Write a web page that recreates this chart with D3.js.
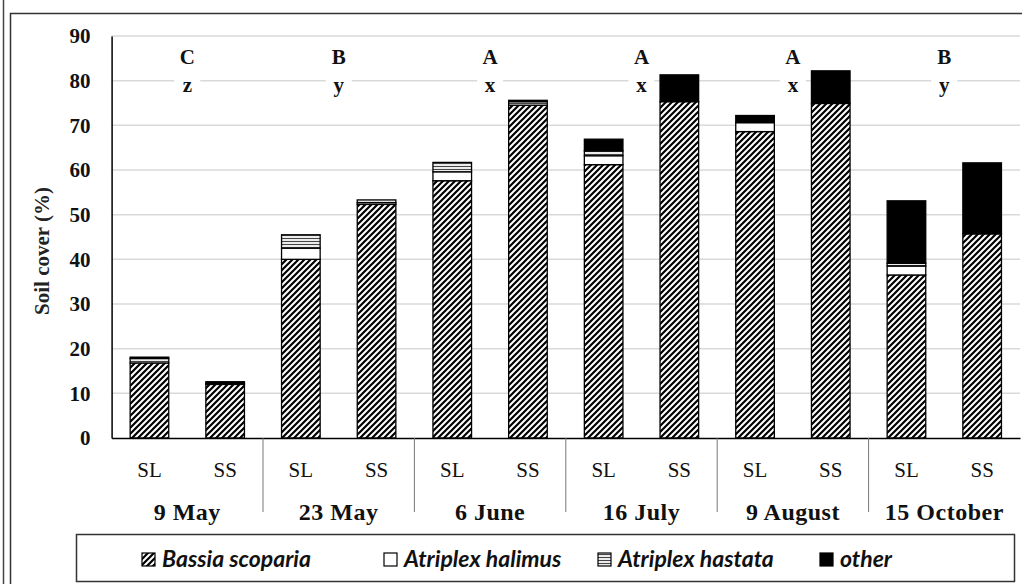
<!DOCTYPE html>
<html>
<head>
<meta charset="utf-8">
<script src="https://cdn.jsdelivr.net/npm/d3@7"></script>
<style>
  html, body { margin: 0; padding: 0; background: #fff; }
  svg { display: block; }
</style>
</head>
<body>
<div id="chart"></div>
<script>
// Data
const dates = ['9 May', '23 May', '6 June', '16 July', '9 August', '15 October'];
const sites = ['SL', 'SS'];
const bassia = [16.8, 12.0, 40.0, 52.3, 57.6, 74.5, 61.2, 75.3, 68.6, 74.9, 36.5, 45.7];
const halimus = [0, 0, 2.5, 0.4, 2.0, 0, 2.0, 0, 2.0, 0, 2.0, 0];
const hastata = [1.0, 0.2, 3.0, 0.6, 2.1, 0.8, 1.1, 0, 0, 0, 0.6, 0];
const other = [0.3, 0.4, 0, 0, 0, 0.3, 2.6, 6.0, 1.6, 7.3, 14.0, 15.9];
const upperLetters = ['C', 'B', 'A', 'A', 'A', 'B'];
const lowerLetters = ['z', 'y', 'x', 'x', 'x', 'y'];
const yTicks = [0, 10, 20, 30, 40, 50, 60, 70, 80, 90];
const speciesNames = ['Bassia scoparia', 'Atriplex halimus', 'Atriplex hastata', 'other'];

//Chart dimensions
const width = 1022;
const height = 584;
const plot = { left: 111.6, right: 1020, top: 36, bottom: 438 };
const serif = "'Liberation Serif', 'Times New Roman', serif";
const sans = "Lato, 'Open Sans', sans-serif";

//Build the table for the stack generator
const keys = ['bassia', 'halimus', 'hastata', 'other'];
const rows = bassia.map((d, i) => ({
  id: i,
  date: dates[Math.floor(i / 2)],
  site: sites[i % 2],
  bassia: d,
  halimus: halimus[i],
  hastata: hastata[i],
  other: other[i]
}));

const svg = d3.select('#chart')
  .append('svg')
  .attr('width', width)
  .attr('height', height);

//Fill patterns
const defs = svg.append('defs');
const diag = defs.append('pattern')
  .attr('id', 'diag')
  .attr('patternUnits', 'userSpaceOnUse')
  .attr('width', 6)
  .attr('height', 6);
diag.append('rect').attr('width', 6).attr('height', 6).attr('fill', '#fff');
diag.append('path')
  .attr('d', 'M-1,1 l2,-2 M0,6 l6,-6 M5,7 l2,-2')
  .attr('stroke', '#000')
  .attr('stroke-width', 2.2);

const horiz = defs.append('pattern')
  .attr('id', 'horiz')
  .attr('patternUnits', 'userSpaceOnUse')
  .attr('width', 4)
  .attr('height', 3);
horiz.append('rect').attr('width', 4).attr('height', 3).attr('fill', '#fff');
horiz.append('line')
  .attr('x1', 0).attr('x2', 4).attr('y1', 1.5).attr('y2', 1.5)
  .attr('stroke', '#444')
  .attr('stroke-width', 1.2);

const fills = { bassia: 'url(#diag)', halimus: '#fff', hastata: 'url(#horiz)', other: '#000' };

//Outer frames
svg.append('line')
  .attr('x1', 3.5).attr('x2', 3.5).attr('y1', 0).attr('y2', height)
  .attr('stroke', '#444').attr('stroke-width', 1.5);
svg.append('rect')
  .attr('x', 10.5).attr('y', 13.5)
  .attr('width', 1030).attr('height', 620)
  .attr('fill', 'none').attr('stroke', '#333').attr('stroke-width', 1.5);

//Scales
const x = d3.scaleBand()
  .domain(rows.map(d => d.id))
  .range([plot.left, plot.right])
  .paddingInner(0.49)
  .paddingOuter(0.245);
const y = d3.scaleLinear()
  .domain([0, 90])
  .range([plot.bottom, plot.top]);
const step = x.step();

//Gridlines
svg.append('g')
  .selectAll('line')
  .data(yTicks.filter(t => t > 0))
  .join('line')
  .attr('x1', plot.left).attr('x2', plot.right)
  .attr('y1', d => y(d)).attr('y2', d => y(d))
  .attr('stroke', '#d9d9d9')
  .attr('stroke-width', 1.5);

//Y-Axis
const yAxis = svg.append('g')
  .attr('transform', `translate(${plot.left}, 0)`)
  .call(d3.axisLeft(y).tickValues(yTicks).tickSize(0).tickPadding(21));
yAxis.select('.domain').attr('stroke', '#000').attr('stroke-width', 1.5);
yAxis.selectAll('text')
  .attr('font-family', serif)
  .attr('font-weight', 'bold')
  .attr('font-size', 21)
  .attr('fill', '#111');

//Y-Axis label
svg.append('text')
  .attr('transform', `translate(42, 251) rotate(-90)`)
  .attr('text-anchor', 'middle')
  .attr('dominant-baseline', 'central')
  .attr('font-family', serif)
  .attr('font-weight', 'bold')
  .attr('font-size', 21)
  .attr('fill', '#222')
  .text('Soil cover (%)');

//Significance letters
const groupCenter = i => x(i * 2) + x.bandwidth() / 2 + step / 2;
const letters = svg.append('g')
  .attr('font-family', serif)
  .attr('font-weight', 'bold')
  .attr('font-size', 21)
  .attr('text-anchor', 'middle')
  .attr('fill', '#111');
letters.selectAll('text.up')
  .data(upperLetters)
  .join('text')
  .attr('class', 'up')
  .attr('x', (d, i) => groupCenter(i))
  .attr('y', 64)
  .text(d => d);
letters.selectAll('rect')
  .data(lowerLetters)
  .join('rect')
  .attr('x', (d, i) => groupCenter(i) - 13)
  .attr('y', 76)
  .attr('width', 26)
  .attr('height', 16)
  .attr('fill', '#fff');
letters.selectAll('text.low')
  .data(lowerLetters)
  .join('text')
  .attr('class', 'low')
  .attr('x', (d, i) => groupCenter(i))
  .attr('y', 92)
  .text(d => d);

//Stacked bars
const stacked = d3.stack().keys(keys)(rows);
svg.append('g')
  .selectAll('g')
  .data(stacked)
  .join('g')
  .attr('fill', d => fills[d.key])
  .selectAll('rect')
  .data(d => d.filter(s => s[1] - s[0] > 0))
  .join('rect')
  .attr('x', d => x(d.data.id))
  .attr('y', d => y(d[1]))
  .attr('width', x.bandwidth())
  .attr('height', d => y(d[0]) - y(d[1]))
  .attr('stroke', '#000')
  .attr('stroke-width', 1.3);

//X-Axis baseline and site labels
const xAxis = svg.append('g')
  .attr('transform', `translate(0, ${plot.bottom})`)
  .call(d3.axisBottom(x).tickSize(0).tickPadding(24).tickFormat(i => rows[i].site));
xAxis.select('.domain').attr('stroke', '#000').attr('stroke-width', 1.5);
xAxis.selectAll('text')
  .attr('font-family', serif)
  .attr('font-size', 21)
  .attr('fill', '#111');

//Group separators
svg.append('g')
  .selectAll('line')
  .data(d3.range(1, dates.length))
  .join('line')
  .attr('x1', i => x(i * 2) - (step - x.bandwidth()) / 2)
  .attr('x2', i => x(i * 2) - (step - x.bandwidth()) / 2)
  .attr('y1', plot.bottom)
  .attr('y2', plot.bottom + 74)
  .attr('stroke', '#777')
  .attr('stroke-width', 1);

//Date labels
svg.append('g')
  .selectAll('text')
  .data(dates)
  .join('text')
  .attr('x', (d, i) => groupCenter(i))
  .attr('y', 520)
  .attr('text-anchor', 'middle')
  .attr('font-family', serif)
  .attr('font-weight', 'bold')
  .attr('font-size', 24)
  .attr('letter-spacing', 0.5)
  .attr('fill', '#111')
  .text(d => d);

//Legend
const legend = svg.append('g');
legend.append('rect')
  .attr('x', 76.5).attr('y', 534.5)
  .attr('width', 938).attr('height', 47)
  .attr('fill', '#fff')
  .attr('stroke', '#333')
  .attr('stroke-width', 1.5);
const legendX = [142, 384, 598, 820];
const item = legend.selectAll('g.item')
  .data(keys)
  .join('g')
  .attr('class', 'item')
  .attr('transform', (d, i) => `translate(${legendX[i]}, 553)`);
item.append('rect')
  .attr('width', 13)
  .attr('height', 13)
  .attr('fill', d => fills[d])
  .attr('stroke', '#000')
  .attr('stroke-width', 1.2);
item.append('text')
  .attr('x', 20)
  .attr('y', 14)
  .attr('font-family', sans)
  .attr('font-style', 'italic')
  .attr('font-weight', 'bold')
  .attr('font-size', 23)
  .attr('fill', '#111')
  .text((d, i) => speciesNames[i]);
</script>
</body>
</html>
